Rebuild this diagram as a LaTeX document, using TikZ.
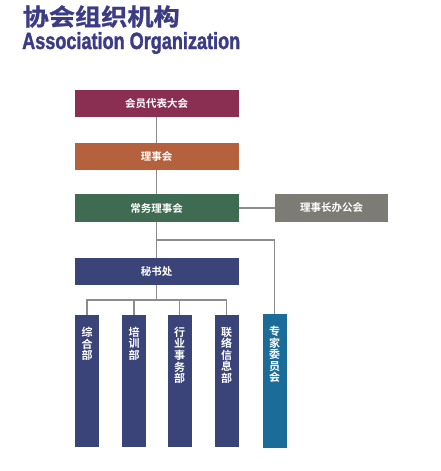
\documentclass[tikz,border=0pt]{standalone}
\usepackage{fontspec}
\usepackage{graphicx}
\usepackage{tikz}
\usepackage{xcolor}
\usetikzlibrary{positioning}
\setmainfont{Liberation Sans}
\newfontfamily\cjk{Noto Sans CJK SC}[BoldFont={Noto Sans CJK SC Bold}]
\newfontfamily\cjkheavy{Noto Sans CJK SC Bold}[FakeBold=1.2]
\newfontfamily\latinheavy{Liberation Sans Bold}[FakeBold=1.8]

\definecolor{titleblue}{HTML}{3C3B86}
\definecolor{wine}{HTML}{8A2F52}
\definecolor{rust}{HTML}{B5613E}
\definecolor{pine}{HTML}{3F6B53}
\definecolor{stone}{HTML}{7C7C74}
\definecolor{navy}{HTML}{3A4479}
\definecolor{sea}{HTML}{1B6C98}
\definecolor{wire}{HTML}{8C8C8C}

\begin{document}
\begin{tikzpicture}[x=1pt, y=-1pt,
            box/.style={rectangle, minimum width=164pt, minimum height=27pt, inner sep=0pt, align=center, text=white, font=\cjk\bfseries\fontsize{10.5}{12}\selectfont},
            sidebox/.style={box, minimum width=113pt, minimum height=28pt},
            col/.style={rectangle, minimum width=24pt, minimum height=132pt, inner sep=0pt},
            coltext/.style={align=center, text=white, inner sep=0pt, font=\cjk\bfseries\fontsize{11}{11.6}\selectfont},
            wireline/.style={draw=wire, line width=1.1pt}
        ]
            \useasboundingbox (0,0) rectangle (440,471);
            % title
            \node[anchor=west, inner sep=0pt, text=titleblue] (title) at (22.5,16.5) {\resizebox{157pt}{!}{\scalebox{1}[0.9]{\cjkheavy\fontsize{25}{25}\selectfont 协会组织机构}}};
            \node[anchor=west, inner sep=0pt, text=titleblue] (subtitle) at (22,43) {\resizebox{218pt}{17pt}{\latinheavy Association Organization}};

            % main chain
            \node[box, fill=wine] (congress) at (156.5,103.5) {会员代表大会};
            \node[box, fill=rust] (council) at (156.5,156.5) {理事会};
            \node[box, fill=pine, minimum height=28pt] (standing) at (156.5,208) {常务理事会};
            \node[sidebox, fill=stone] (office) at (331.5,208) {理事长办公会};
            \node[box, fill=navy] (secretariat) at (156.5,271.5) {秘书处};

            % departments
            \node[col, fill=navy] (general) at (87,381) {};
            \node[col, fill=navy] (training) at (134,381) {};
            \node[col, fill=navy] (affairs) at (179.5,381) {};
            \node[col, fill=navy] (liaison) at (226.5,381) {};
            \node[col, fill=sea, minimum height=134pt] (experts) at (274.5,381) {};
            \node[coltext, below=12pt of general.north] (generalt) {综\\合\\部};
            \node[coltext, below=12pt of training.north] (trainingt) {培\\训\\部};
            \node[coltext, below=12pt of affairs.north] (affairst) {行\\业\\事\\务\\部};
            \node[coltext, below=12pt of liaison.north] (liaisont) {联\\络\\信\\息\\部};
            \node[coltext, below=12pt of experts.north] (expertst) {专\\家\\委\\员\\会};

            \coordinate (fork) at (156.5,240);
            \coordinate (bus) at (156.5,300);

            \draw[wireline] (congress) -- (council);
            \draw[wireline] (council) -- (standing);
            \draw[wireline] (standing) -- (office);
            \draw[wireline] (standing) -- (fork) -- (secretariat);
            \draw[wireline] (fork) -| (experts.north);
            \draw[wireline] (secretariat) -- (bus);
            \draw[wireline] (bus) -| (general.north);
            \draw[wireline] (bus) -| (training.north);
            \draw[wireline] (bus) -| (affairs.north);
            \draw[wireline] (bus) -| (liaison.north);
        \end{tikzpicture}
\end{document}
